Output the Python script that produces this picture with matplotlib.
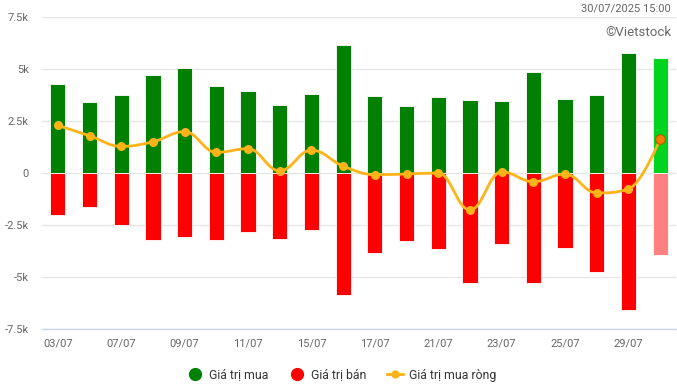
"""
Foreign investor trading value chart (buy / sell / net), Vietstock style.
"""

import matplotlib
matplotlib.use("Agg")
import matplotlib.pyplot as plt
import numpy as np
from matplotlib.lines import Line2D
from matplotlib.path import Path
from matplotlib.patches import PathPatch

plt.rcParams["font.family"] = ["Roboto", "DejaVu Sans"]

# ---------------------------------------------------------------------------
# Data (billion VND)
# ---------------------------------------------------------------------------

dates = ["03/07", "04/07", "07/07", "08/07", "09/07", "10/07", "11/07",
         "14/07", "15/07", "16/07", "17/07", "18/07", "21/07", "22/07",
         "23/07", "24/07", "25/07", "28/07", "29/07", "30/07"]

buy_value = [4280, 3410, 3750, 4710, 5050, 4180, 3940, 3280, 3800, 6150,
             3700, 3220, 3650, 3510, 3460, 4860, 3560, 3750, 5770, 5530]

sell_value = [-2000, -1620, -2480, -3200, -3060, -3200, -2820, -3160, -2730, -5850,
              -3830, -3250, -3640, -5270, -3400, -5270, -3590, -4750, -6570, -3930]

net_value = [2290, 1790, 1280, 1500, 1990, 990, 1170, 100, 1100, 330,
             -80, -50, 0, -1780, 60, -420, -50, -960, -770, 1630]

y_ticks = [-7500, -5000, -2500, 0, 2500, 5000, 7500]
y_labels = ["-7.5k", "-5k", "-2.5k", "0", "2.5k", "5k", "7.5k"]

GREEN = "#008000"
RED = "#ff0000"
GREEN_LAST = "#00d41e"
RED_LAST = "#ff8080"
ORANGE = "#ffb319"
TEXT = "#666666"


def spline_path(xs, ys, smoothing=1.5):
    """Bezier path through the points, same control rule as a Highcharts spline."""
    n = len(xs)
    left = [(xs[i], ys[i]) for i in range(n)]
    right = [(xs[i], ys[i]) for i in range(n)]
    denom = smoothing + 1
    for i in range(1, n - 1):
        x, y = xs[i], ys[i]
        px, py = xs[i - 1], ys[i - 1]
        nx, ny = xs[i + 1], ys[i + 1]
        lcx = (smoothing * x + px) / denom
        lcy = (smoothing * y + py) / denom
        rcx = (smoothing * x + nx) / denom
        rcy = (smoothing * y + ny) / denom
        if rcx != lcx:
            corr = (rcy - lcy) * (rcx - x) / (rcx - lcx) + y - rcy
            lcy += corr
            rcy += corr
        if lcy > max(py, y):
            lcy = max(py, y)
            rcy = 2 * y - lcy
        elif lcy < min(py, y):
            lcy = min(py, y)
            rcy = 2 * y - lcy
        if rcy > max(ny, y):
            rcy = max(ny, y)
            lcy = 2 * y - rcy
        elif rcy < min(ny, y):
            rcy = min(ny, y)
            lcy = 2 * y - rcy
        left[i] = (lcx, lcy)
        right[i] = (rcx, rcy)

    verts = [(xs[0], ys[0])]
    codes = [Path.MOVETO]
    for i in range(1, n):
        verts += [right[i - 1], left[i], (xs[i], ys[i])]
        codes += [Path.CURVE4] * 3
    return Path(verts, codes)


fig = plt.figure(figsize=(6.77, 3.84), dpi=100)
ax = fig.add_axes([42 / 677, 55 / 384, 634 / 677, 312 / 384])

x = np.arange(len(dates))
buy_colors = [GREEN] * (len(dates) - 1) + [GREEN_LAST]
sell_colors = [RED] * (len(dates) - 1) + [RED_LAST]

ax.bar(x, buy_value, width=0.48, color=buy_colors, edgecolor="white", linewidth=0.6, zorder=2)
ax.bar(x, sell_value, width=0.48, color=sell_colors, edgecolor="white", linewidth=0.6, zorder=2)

path = spline_path(list(x.astype(float)), list(map(float, net_value)))
ax.add_patch(PathPatch(path, facecolor="none", edgecolor=ORANGE, linewidth=2, zorder=3))
ax.scatter(x[:-1], net_value[:-1], s=42, color=ORANGE, zorder=4, linewidths=0)
ax.scatter(x[-1:], net_value[-1:], s=48, color="#f77f00", edgecolor="#b35c00",
           linewidths=0.8, zorder=5)

ax.set_xlim(-0.5, len(dates) - 0.5)
ax.set_ylim(-7500, 7500)
ax.set_yticks(y_ticks)
ax.set_yticklabels(y_labels)
ax.set_xticks(x[::2])
ax.set_xticklabels(dates[::2])
ax.tick_params(axis="both", length=0, labelsize=8, colors=TEXT)
ax.tick_params(axis="x", pad=7)
ax.tick_params(axis="y", pad=9.5)

ax.grid(axis="y", color="#e6e6e6", linewidth=1)
ax.set_axisbelow(True)
for side in ["top", "right", "left"]:
    ax.spines[side].set_visible(False)
ax.spines["bottom"].set_color("#ccd6eb")
ax.spines["bottom"].set_linewidth(1)

fig.text(671 / 677, 1 - 9 / 384, "30/07/2025 15:00", ha="right", va="center",
         fontsize=8, color=TEXT)
fig.text(671 / 677, 1 - 33 / 384, "©Vietstock", ha="right", va="center",
         fontsize=9.5, color=TEXT)

handles = [
    Line2D([], [], linestyle="none", marker="o", markersize=8.5, color=GREEN),
    Line2D([], [], linestyle="none", marker="o", markersize=8.5, color=RED),
    Line2D([], [], color=ORANGE, linewidth=2, marker="o", markersize=5),
]
fig.legend(handles, ["Giá trị mua", "Giá trị bán", "Giá trị mua ròng"],
           loc="center", bbox_to_anchor=(0.505, 1 - 375 / 384), ncol=3, frameon=False,
           fontsize=8.8, labelcolor="#333333", handlelength=1.3, handletextpad=0.5,
           columnspacing=1.7)

fig.savefig("out.png", dpi=100)
